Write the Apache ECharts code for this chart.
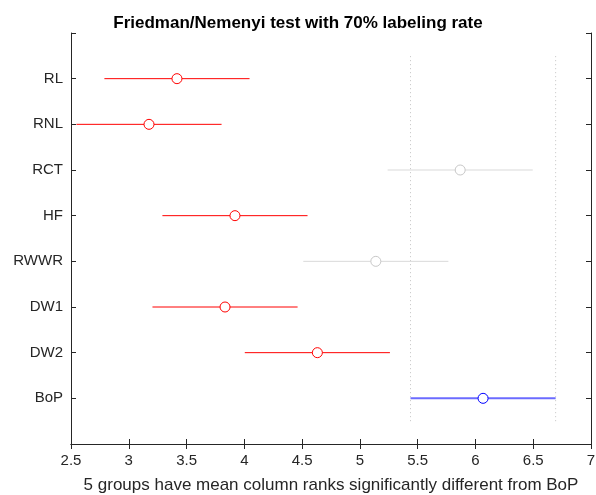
<!DOCTYPE html>
<html>
<head>
<meta charset="utf-8">
<script src="https://cdn.jsdelivr.net/npm/echarts@6/dist/echarts.min.js"></script>
<style>html,body{margin:0;padding:0;background:#fff}#c{width:596px;height:495px}</style>
</head>
<body>
<div id="c"></div>
<script>
// Groups from top to bottom
var categories = ['RL', 'RNL', 'RCT', 'HF', 'RWWR', 'DW1', 'DW2', 'BoP'];
// Mean column ranks
var means = [3.417, 3.175, 5.868, 3.919, 5.138, 3.833, 4.632, 6.066];
// Comparison interval bounds
var lower = [2.789, 2.547, 5.240, 3.291, 4.510, 3.205, 4.004, 5.438];
var upper = [4.045, 3.803, 6.496, 4.547, 5.766, 4.461, 5.260, 6.694];
// 'diff' = significantly different from BoP, 'same' = not, 'ref' = reference group
var groupStatus = ['diff', 'diff', 'same', 'diff', 'same', 'diff', 'diff', 'ref'];
// x tick range
var xTicks = [2.5, 3, 3.5, 4, 4.5, 5, 5.5, 6, 6.5, 7];

var titleText = 'Friedman/Nemenyi test with 70% labeling rate';
var xLabelText = '5 groups have mean column ranks significantly different from BoP';

var FONT = '"Liberation Sans", Arial, Helvetica, sans-serif';
var axisColor = '#262626';
var lineColors = {diff: '#ff0000', same: '#d9d9d9', ref: '#6b6bff'};
var markColors = {diff: '#ff0000', same: '#c8c8c8', ref: '#0000ff'};
var lineWidths = {diff: 1, same: 1, ref: 2};

var n = categories.length;
function yPos(i) { return n - i; }

var series = [];
var refIdx = groupStatus.indexOf('ref');
// dotted reference lines at the reference group's interval limits
[lower[refIdx], upper[refIdx]].forEach(function (v) {
  series.push({
    type: 'line', xAxisIndex: 0, yAxisIndex: 0, symbol: 'none', silent: true,
    color: '#c4c4c4',
    data: [[v, 0.5], [v, n + 0.5]],
    itemStyle: {color: '#c4c4c4'},
    lineStyle: {color: '#c4c4c4', width: 1, type: [1, 3]}, z: 1
  });
});
categories.forEach(function (c, i) {
  var col = lineColors[groupStatus[i]];
  var mcol = markColors[groupStatus[i]];
  series.push({
    type: 'line', xAxisIndex: 0, yAxisIndex: 0, symbol: 'none', silent: true,
    color: col,
    data: [[lower[i], yPos(i)], [upper[i], yPos(i)]],
    itemStyle: {color: col},
    lineStyle: {color: col, width: lineWidths[groupStatus[i]]}, z: 2
  });
  series.push({
    type: 'scatter', xAxisIndex: 0, yAxisIndex: 0, silent: true,
    symbol: 'circle', symbolSize: 10,
    color: mcol,
    itemStyle: {color: '#ffffff', borderColor: mcol, borderWidth: 1, opacity: 1},
    data: [[means[i], yPos(i)]],
    z: 3
  });
});

var chart = echarts.init(document.getElementById('c'), null, {renderer: 'canvas'});
chart.setOption({
  animation: false,
  backgroundColor: '#ffffff',
  title: {
    text: titleText, left: 'center', top: 10,
    textStyle: {fontFamily: FONT, fontSize: 17, fontWeight: 'bold', color: '#000000'}
  },
  grid: {left: 71, right: 5, top: 33, bottom: 51, containLabel: false, outerBoundsMode: 'none'},
  xAxis: [{
    type: 'value', position: 'bottom', min: xTicks[0], max: xTicks[xTicks.length - 1], interval: 0.5,
    axisLine: {show: true, lineStyle: {color: axisColor, width: 1}},
    axisTick: {show: true, inside: true, length: 5, lineStyle: {color: axisColor}},
    axisLabel: {show: true, margin: 9, fontFamily: FONT, fontSize: 15, color: axisColor},
    splitLine: {show: false},
    name: xLabelText, nameLocation: 'middle', nameGap: 33,
    nameTextStyle: {fontFamily: FONT, fontSize: 17, color: axisColor}
  }, {
    type: 'value', position: 'top', min: xTicks[0], max: xTicks[xTicks.length - 1], interval: 0.5,
    axisLine: {show: true, lineStyle: {color: axisColor, width: 1}},
    axisTick: {show: true, inside: true, length: 5, lineStyle: {color: axisColor}},
    axisLabel: {show: false}, splitLine: {show: false}
  }],
  yAxis: [{
    type: 'value', position: 'left', min: 0, max: n + 1, interval: 1,
    axisLine: {show: true, lineStyle: {color: axisColor, width: 1}},
    axisTick: {show: true, inside: true, length: 5, lineStyle: {color: axisColor}},
    axisLabel: {
      show: true, margin: 8, fontFamily: FONT, fontSize: 15, color: axisColor,
      formatter: function (v) { var i = n - v; return (i >= 0 && i < n) ? categories[i] : ''; }
    },
    splitLine: {show: false}
  }, {
    type: 'value', position: 'right', min: 0, max: n + 1, interval: 1,
    axisLine: {show: true, lineStyle: {color: axisColor, width: 1}},
    axisTick: {show: true, inside: true, length: 5, lineStyle: {color: axisColor}},
    axisLabel: {show: false}, splitLine: {show: false}
  }],
  series: series
});
</script>
</body>
</html>
